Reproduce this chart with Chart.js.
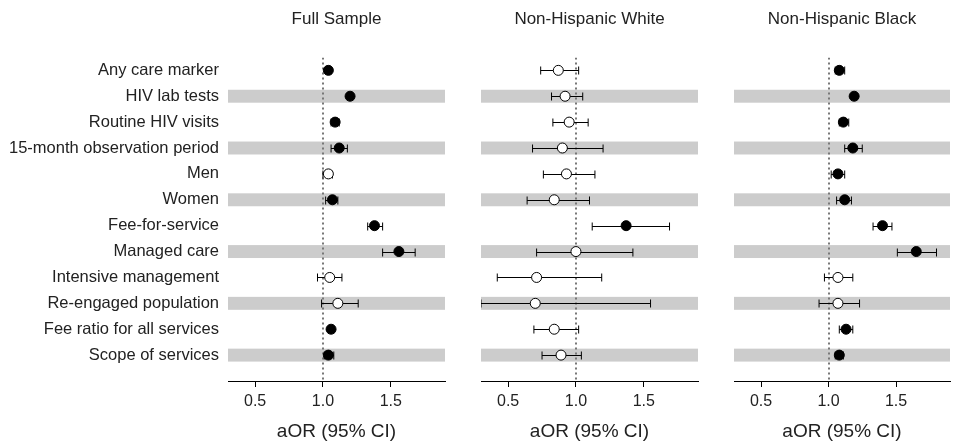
<!DOCTYPE html>
<html>
<head>
<meta charset="utf-8">
<script src="https://cdn.jsdelivr.net/npm/chart.js@4.4.1/dist/chart.umd.min.js"></script>
<style>
  body { margin: 0; background: #fff; }
  .panel { position: absolute; top: 0; height: 444px; }
</style>
</head>
<body>
<div class="panel" style="left:0;width:460px"><canvas id="c1"></canvas></div>
<div class="panel" style="left:460px;width:255px"><canvas id="c2"></canvas></div>
<div class="panel" style="left:715px;width:241px"><canvas id="c3"></canvas></div>
<script>
const categories = [
  "Any care marker", "HIV lab tests", "Routine HIV visits", "15-month observation period",
  "Men", "Women", "Fee-for-service", "Managed care",
  "Intensive management", "Re-engaged population", "Fee ratio for all services", "Scope of services"
];
const panelTitles = ["Full Sample", "Non-Hispanic White", "Non-Hispanic Black"];
const xTicks = [0.5, 1.0, 1.5];

const fullOR = [1.04, 1.20, 1.09, 1.12, 1.04, 1.07, 1.38, 1.56, 1.05, 1.11, 1.06, 1.04];
const fullLo = [1.02, 1.18, 1.06, 1.06, 1.00, 1.02, 1.33, 1.44, 0.96, 0.99, 1.04, 1.01];
const fullHi = [1.06, 1.22, 1.12, 1.18, 1.07, 1.11, 1.44, 1.68, 1.14, 1.26, 1.08, 1.08];

const whiteOR = [0.87, 0.92, 0.95, 0.90, 0.93, 0.84, 1.37, 1.00, 0.71, 0.70, 0.84, 0.89];
const whiteLo = [0.74, 0.82, 0.83, 0.68, 0.76, 0.64, 1.12, 0.71, 0.42, 0.30, 0.69, 0.75];
const whiteHi = [1.02, 1.05, 1.09, 1.20, 1.14, 1.10, 1.69, 1.42, 1.19, 1.55, 1.02, 1.04];

const blackOR = [1.08, 1.19, 1.11, 1.18, 1.07, 1.12, 1.40, 1.65, 1.07, 1.07, 1.13, 1.08];
const blackLo = [1.05, 1.17, 1.08, 1.12, 1.02, 1.06, 1.33, 1.51, 0.97, 0.93, 1.08, 1.05];
const blackHi = [1.12, 1.21, 1.15, 1.25, 1.12, 1.17, 1.47, 1.80, 1.18, 1.23, 1.18, 1.11];

Chart.defaults.font.family = "'Liberation Sans', Arial, sans-serif";
Chart.defaults.color = '#222';

// bandas cinzas, linha pontilhada em 1.0 e barras de IC
const forestPlugin = {
  id: 'forest',
  beforeDatasetsDraw(chart) {
    const { ctx, chartArea: a, scales: { x, y } } = chart;
    const pts = chart.data.datasets[0].data;
    ctx.save();
    ctx.beginPath();
    ctx.rect(a.left, a.top, a.right - a.left, a.bottom - a.top);
    ctx.clip();

    ctx.fillStyle = '#cccccc';
    pts.forEach((p, i) => {
      if (i % 2 === 1) {
        const t = y.getPixelForValue(p.y - 0.25);
        const b = y.getPixelForValue(p.y + 0.25);
        ctx.fillRect(a.left, t, a.right - a.left, b - t);
      }
    });

    const x1 = Math.round(x.getPixelForValue(1));
    ctx.strokeStyle = '#777';
    ctx.lineWidth = 2;
    ctx.setLineDash([2, 3]);
    ctx.beginPath();
    ctx.moveTo(x1, a.top);
    ctx.lineTo(x1, a.bottom);
    ctx.stroke();
    ctx.setLineDash([]);

    ctx.strokeStyle = '#000';
    ctx.lineWidth = 1;
    pts.forEach(p => {
      const yy = Math.round(y.getPixelForValue(p.y)) + 0.5;
      const l = x.getPixelForValue(p.lo), r = x.getPixelForValue(p.hi);
      ctx.beginPath();
      ctx.moveTo(l, yy); ctx.lineTo(r, yy);
      ctx.moveTo(l, yy - 4); ctx.lineTo(l, yy + 4);
      ctx.moveTo(r, yy - 4); ctx.lineTo(r, yy + 4);
      ctx.stroke();
    });
    ctx.restore();
  }
};

function makePanel(id, title, or, lo, hi, showLabels, padL, padR) {
  const pts = or.map((v, i) => ({ x: v, y: i + 1, lo: lo[i], hi: hi[i] }));
  const fills = pts.map(p => (p.lo > 1 || p.hi < 1) ? '#000' : '#fff');
  new Chart(document.getElementById(id), {
    type: 'scatter',
    data: {
      datasets: [{
        data: pts,
        pointRadius: 5,
        pointHoverRadius: 5,
        pointBorderWidth: 1,
        pointBorderColor: '#000',
        pointBackgroundColor: fills,
      }]
    },
    plugins: [forestPlugin],
    options: {
      animation: false,
      responsive: true,
      maintainAspectRatio: false,
      layout: { padding: { left: padL, right: padR, top: 0, bottom: 0 } },
      plugins: {
        legend: { display: false },
        tooltip: { enabled: false },
        title: {
          display: true,
          fullSize: false,
          text: title,
          color: '#222',
          font: { size: 17, weight: 'normal' },
          padding: { top: 9, bottom: 28 }
        }
      },
      scales: {
        x: {
          type: 'linear',
          min: 0.3,
          max: 1.9,
          afterBuildTicks: s => { s.ticks = xTicks.map(v => ({ value: v })); },
          afterFit: s => { s.height = 63; },
          ticks: {
            callback: v => Number(v).toFixed(1),
            font: { size: 16 },
            color: '#222',
            padding: 5,
            maxRotation: 0,
            autoSkip: false
          },
          grid: { drawOnChartArea: false, drawTicks: true, tickLength: 6, color: '#000' },
          border: { display: true, color: '#000', width: 1 },
          title: {
            display: true,
            text: 'aOR (95% CI)',
            color: '#222',
            font: { size: 19 },
            padding: { top: 0, bottom: 1 }
          }
        },
        y: {
          type: 'linear',
          reverse: true,
          min: 0.5,
          max: 13,
          display: showLabels,
          afterBuildTicks: s => { s.ticks = categories.map((c, i) => ({ value: i + 1 })); },
          afterFit: s => { if (showLabels) s.width = 228; },
          ticks: {
            callback: v => categories[v - 1],
            font: { size: 16.5 },
            color: '#222',
            padding: 9,
            autoSkip: false
          },
          grid: { display: false, drawTicks: false },
          border: { display: false }
        }
      }
    }
  });
}

makePanel('c1', panelTitles[0], fullOR, fullLo, fullHi, true, 0, 15);
makePanel('c2', panelTitles[1], whiteOR, whiteLo, whiteHi, false, 21, 17);
makePanel('c3', panelTitles[2], blackOR, blackLo, blackHi, false, 19, 5);
</script>
</body>
</html>
